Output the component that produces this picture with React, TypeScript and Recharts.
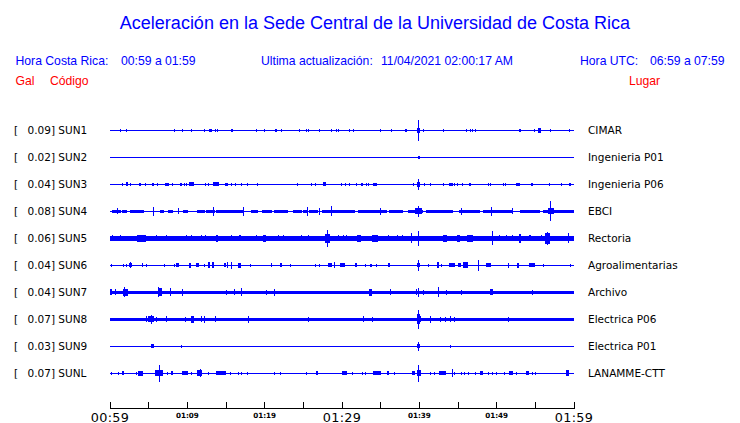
import { ComposedChart, Area, XAxis, YAxis } from "recharts";

// minutes after 00:59 (hora Costa Rica)
const MINUTES = [0, 5, 10, 15, 20, 25, 30, 35, 40, 45, 50, 55, 60];
const TIME_LABELS = ["00:59", "", "01:09", "", "01:19", "", "01:29", "", "01:39", "", "01:49", "", "01:59"];
const MAJOR = ["00:59", "01:29", "01:59"];

const CODES = ["SUN1", "SUN2", "SUN3", "SUN4", "SUN5", "SUN6", "SUN7", "SUN8", "SUN9", "SUNL"];
const PEAKS = ["0.09", "0.02", "0.04", "0.08", "0.06", "0.04", "0.04", "0.07", "0.03", "0.07"];
const PLACES = [
  "CIMAR",
  "Ingenieria P01",
  "Ingenieria P06",
  "EBCI",
  "Rectoria",
  "Agroalimentarias",
  "Archivo",
  "Electrica P06",
  "Electrica P01",
  "LANAMME-CTT",
];

// background half amplitude of each trace (in trace spacing units)
const BASE = [0.019, 0.019, 0.019, 0.019, 0.087, 0.019, 0.065, 0.068, 0.019, 0.019];

type Block = [number, number, number]; // start min, end min, half amplitude
type Spike = [number, number]; // min, half amplitude

const SUN1_BLOCKS: Block[] = [
  [12.8, 13.2, 0.06], [15.6, 15.9, 0.05], [21.3, 21.55, 0.06], [38.1, 38.37, 0.06],
  [39.7, 40.1, 0.09], [52.9, 53.1, 0.06], [55.4, 55.75, 0.09],
];
const SUN1_SPIKES: Spike[] = [
  [1.33, 0.055], [2.11, 0.055], [8.31, 0.055], [9.35, 0.055], [10.51, 0.055], [12.19, 0.055],
  [13.67, 0.055], [13.87, 0.055], [18.97, 0.055], [20.0, 0.055], [22.15, 0.055], [24.48, 0.055],
  [25.38, 0.055], [25.64, 0.055], [27.06, 0.055], [28.61, 0.055], [29.26, 0.055], [29.52, 0.055],
  [30.94, 0.055], [31.46, 0.055], [34.95, 0.055], [36.46, 0.055], [39.87, 0.39], [40.51, 0.055],
  [43.15, 0.055], [46.07, 0.055], [46.59, 0.055], [46.85, 0.055], [47.24, 0.055], [54.86, 0.055],
  [56.93, 0.055], [59.44, 0.055],
];

const SUN2_BLOCKS: Block[] = [[39.8, 40.05, 0.07]];
const SUN2_SPIKES: Spike[] = [];

const SUN3_BLOCKS: Block[] = [
  [2.03, 2.37, 0.075], [3.75, 4.05, 0.06], [5.39, 5.65, 0.06], [7.11, 7.63, 0.06], [9.0, 9.3, 0.06],
  [10.25, 10.9, 0.075], [13.36, 14.09, 0.075], [14.87, 15.22, 0.06], [27.6, 27.9, 0.075],
  [32.5, 32.68, 0.06], [34.05, 34.49, 0.06], [39.66, 40.08, 0.11], [43.8, 44.31, 0.06],
  [46.38, 46.64, 0.06], [52.46, 53.02, 0.06], [54.45, 54.75, 0.06], [59.3, 59.6, 0.06],
];
const SUN3_SPIKES: Spike[] = [
  [1.59, 0.055], [2.62, 0.055], [4.53, 0.055], [6.12, 0.055], [8.02, 0.055], [9.57, 0.055],
  [9.83, 0.055], [12.41, 0.055], [12.71, 0.055], [15.65, 0.055], [16.2, 0.055], [16.98, 0.055],
  [17.75, 0.055], [19.05, 0.055], [24.22, 0.055], [26.03, 0.055], [26.51, 0.055], [29.91, 0.055],
  [30.43, 0.055], [30.94, 0.055], [31.9, 0.055], [33.14, 0.055], [33.45, 0.055], [39.27, 0.055],
  [39.87, 0.22], [40.69, 0.055], [41.47, 0.055], [43.15, 0.055], [44.52, 0.055], [44.96, 0.055],
  [45.61, 0.055], [48.88, 0.055], [49.14, 0.055], [50.82, 0.055], [51.17, 0.055], [56.86, 0.055],
  [58.41, 0.055],
];

const SUN4_BLOCKS: Block[] = [
  [0.22, 1.42, 0.068], [1.59, 2.2, 0.068], [2.62, 4.44, 0.068], [6.47, 6.98, 0.068],
  [7.5, 8.11, 0.068], [9.48, 10.09, 0.068], [11.25, 12.28, 0.068], [12.45, 13.58, 0.068],
  [13.71, 17.24, 0.068], [18.19, 19.18, 0.068], [19.62, 20.91, 0.068], [21.25, 23.06, 0.068],
  [23.62, 24.79, 0.068], [25.0, 25.64, 0.068], [25.77, 26.93, 0.068], [27.37, 31.68, 0.068],
  [32.1, 35.78, 0.068], [36.11, 37.92, 0.068], [38.49, 40.51, 0.068], [39.5, 40.3, 0.11],
  [40.86, 44.39, 0.068], [45.17, 47.84, 0.068], [48.27, 52.15, 0.068], [53.01, 55.6, 0.068],
  [56.03, 60, 0.068], [56.6, 57.4, 0.11],
];
const SUN4_SPIKES: Spike[] = [
  [1.03, 0.11], [5.65, 0.15], [8.92, 0.11], [13.36, 0.15], [17.24, 0.15], [25.51, 0.15],
  [27.03, 0.13], [28.67, 0.185], [34.95, 0.13], [39.87, 0.2], [45.48, 0.13], [49.36, 0.15],
  [52.07, 0.11], [57.02, 0.37],
];

const SUN5_BLOCKS: Block[] = [
  [3.45, 4.62, 0.12], [13.75, 14.0, 0.13], [19.82, 20.13, 0.12], [27.8, 28.49, 0.15],
  [31.98, 32.42, 0.13], [33.92, 34.69, 0.13], [43.1, 43.54, 0.13], [44.83, 45.26, 0.13],
  [46.12, 46.98, 0.13], [52.9, 53.2, 0.15], [56.25, 56.9, 0.22],
];
const SUN5_SPIKES: Spike[] = [
  [0.3, 0.11], [1.42, 0.11], [5.99, 0.11], [7.28, 0.11], [9.87, 0.11], [10.56, 0.11],
  [11.86, 0.11], [12.41, 0.11], [15.65, 0.11], [16.81, 0.11], [18.92, 0.11], [21.76, 0.11],
  [22.41, 0.11], [24.79, 0.11], [25.73, 0.11], [28.15, 0.3], [29.52, 0.11], [30.17, 0.11],
  [30.52, 0.11], [35.99, 0.11], [37.2, 0.11], [37.8, 0.11], [39.01, 0.185], [39.87, 0.28],
  [49.43, 0.26], [50.43, 0.11], [51.3, 0.11], [52.02, 0.11], [54.31, 0.11], [55.82, 0.11],
  [56.57, 0.24], [59.26, 0.185],
];

const SUN6_BLOCKS: Block[] = [
  [2.46, 2.88, 0.075], [4.1, 4.31, 0.075], [8.5, 8.92, 0.075], [10.22, 10.44, 0.09],
  [11.15, 11.45, 0.075], [12.71, 12.97, 0.11], [13.2, 13.45, 0.11], [14.7, 14.96, 0.075],
  [16.6, 16.9, 0.09], [20.82, 20.99, 0.075], [22.0, 22.25, 0.075], [28.15, 28.67, 0.075],
  [29.78, 30.39, 0.075], [31.68, 31.98, 0.075], [35.95, 36.25, 0.075], [39.66, 40.09, 0.075],
  [42.25, 42.5, 0.11], [43.8, 44.61, 0.075], [45.04, 45.35, 0.075], [45.68, 46.33, 0.11],
  [48.62, 49.23, 0.075], [51.43, 51.63, 0.09], [52.67, 52.93, 0.09], [54.22, 54.96, 0.075],
];
const SUN6_SPIKES: Spike[] = [
  [0.13, 0.055], [1.77, 0.055], [2.11, 0.055], [2.65, 0.11], [4.75, 0.055], [7.11, 0.055],
  [8.28, 0.055], [12.28, 0.055], [15.22, 0.11], [15.74, 0.13], [18.14, 0.055], [23.28, 0.055],
  [26.51, 0.055], [27.15, 0.055], [29.0, 0.11], [33.1, 0.055], [33.75, 0.055], [34.49, 0.055],
  [39.87, 0.22], [41.16, 0.055], [42.89, 0.055], [47.62, 0.22], [56.08, 0.055], [59.61, 0.055],
];

const SUN7_BLOCKS: Block[] = [
  [0.0, 0.3, 0.11], [1.72, 2.29, 0.13], [6.25, 6.76, 0.15], [33.55, 33.9, 0.13],
  [49.2, 49.55, 0.11],
];
const SUN7_SPIKES: Spike[] = [
  [0.65, 0.11], [1.85, 0.185], [6.25, 0.185], [7.76, 0.15], [9.35, 0.13], [15.09, 0.08],
  [16.07, 0.11], [17.03, 0.15], [20.26, 0.09], [21.25, 0.13], [36.21, 0.11], [39.57, 0.11],
  [39.87, 0.17], [40.51, 0.09], [42.45, 0.185], [43.54, 0.09], [45.48, 0.08], [54.61, 0.08],
];

const SUN8_BLOCKS: Block[] = [
  [4.95, 5.73, 0.11], [10.47, 10.9, 0.13], [39.74, 40.09, 0.185],
];
const SUN8_SPIKES: Spike[] = [
  [4.75, 0.11], [5.39, 0.17], [6.04, 0.09], [7.33, 0.11], [9.79, 0.09], [11.86, 0.11],
  [12.28, 0.13], [13.58, 0.11], [17.97, 0.13], [25.64, 0.08], [32.75, 0.11], [33.92, 0.08],
  [39.87, 0.35], [40.18, 0.11], [41.47, 0.13], [42.76, 0.09], [43.41, 0.09], [44.05, 0.11],
  [44.52, 0.09], [51.5, 0.08],
];

const SUN9_BLOCKS: Block[] = [[5.3, 5.65, 0.075], [39.74, 40.09, 0.075]];
const SUN9_SPIKES: Spike[] = [[9.27, 0.04], [39.87, 0.17], [44.0, 0.04]];

const SUNL_BLOCKS: Block[] = [
  [1.51, 1.85, 0.075], [3.66, 4.31, 0.09], [5.82, 6.89, 0.11], [7.89, 8.11, 0.075],
  [9.27, 10.05, 0.075], [11.21, 11.86, 0.11], [13.71, 15.0, 0.075], [26.64, 26.94, 0.075],
  [29.96, 30.61, 0.075], [33.97, 35.0, 0.075], [35.82, 36.14, 0.075], [39.01, 39.44, 0.075],
  [39.66, 40.25, 0.11], [42.54, 43.45, 0.075], [47.84, 48.27, 0.075], [51.63, 52.15, 0.075],
  [53.75, 54.22, 0.075], [59.0, 59.3, 0.11],
];
const SUNL_SPIKES: Spike[] = [
  [0.13, 0.055], [1.07, 0.055], [3.45, 0.055], [6.37, 0.31], [7.46, 0.055], [10.56, 0.055],
  [11.64, 0.15], [12.71, 0.055], [15.52, 0.055], [16.68, 0.055], [16.94, 0.055], [17.81, 0.055],
  [21.25, 0.055], [22.07, 0.055], [25.43, 0.055], [31.38, 0.055], [32.68, 0.055], [33.1, 0.055],
  [36.85, 0.055], [39.87, 0.31], [41.47, 0.055], [41.9, 0.055], [44.31, 0.15], [44.61, 0.055],
  [45.48, 0.055], [45.9, 0.055], [46.33, 0.055], [47.2, 0.055], [49.0, 0.055], [49.48, 0.055],
  [50.0, 0.055], [50.98, 0.055], [52.59, 0.055], [54.66, 0.055], [55.08, 0.055],
];

const BLOCKS = [SUN1_BLOCKS, SUN2_BLOCKS, SUN3_BLOCKS, SUN4_BLOCKS, SUN5_BLOCKS,
  SUN6_BLOCKS, SUN7_BLOCKS, SUN8_BLOCKS, SUN9_BLOCKS, SUNL_BLOCKS];
const SPIKES = [SUN1_SPIKES, SUN2_SPIKES, SUN3_SPIKES, SUN4_SPIKES, SUN5_SPIKES,
  SUN6_SPIKES, SUN7_SPIKES, SUN8_SPIKES, SUN9_SPIKES, SUNL_SPIKES];

const SPIKE_WIDTH = 0.13; // about one pixel wide
const BLUE = "#0000ff";
const SANS = "'Liberation Sans', Arial, sans-serif";
const DEJAVU = "'DejaVu Sans', sans-serif";

// step envelope of a trace, centred on its row
function envelope(row: number, base: number, blocks: Block[], spikes: Spike[]) {
  const feats: Block[] = [
    [0, 60, base],
    ...blocks,
    ...spikes.map(([t, a]) => [t - SPIKE_WIDTH / 2, t + SPIKE_WIDTH / 2, a] as Block),
  ];
  const cuts = Array.from(
    new Set(feats.flatMap(([a, b]) => [Math.max(0, a), Math.min(60, b)]))
  ).sort((a, b) => a - b);
  const pts = cuts.map((t) => {
    let amp = 0;
    for (const [a, b, v] of feats) if (t >= a && t < b && v > amp) amp = v;
    return { t, v: [row - amp, row + amp] };
  });
  pts[pts.length - 1].v = pts[pts.length - 2].v;
  return pts;
}

const series = CODES.map((_, i) => envelope(10 - i, BASE[i], BLOCKS[i], SPIKES[i]));
const ROWS = CODES.map((_, i) => 10 - i);

const LeftTick = ({ x, y, payload }: any) => {
  const i = 10 - payload.value;
  return (
    <g fontFamily={DEJAVU} fontSize={10.5} fill="#000">
      <text x={x - 96} y={y} dominantBaseline="central">[</text>
      <text x={x - 82.5} y={y} dominantBaseline="central">{`${PEAKS[i]}] ${CODES[i]}`}</text>
    </g>
  );
};

const RightTick = ({ x, y, payload }: any) => {
  const i = 10 - payload.value;
  return (
    <text x={x + 14} y={y} dominantBaseline="central" fontFamily={DEJAVU} fontSize={10.5} fill="#000">
      {PLACES[i]}
    </text>
  );
};

const TimeTick = ({ x, y, payload }: any) => {
  const label = TIME_LABELS[MINUTES.indexOf(payload.value)];
  const major = MAJOR.includes(label);
  return (
    <g>
      <line x1={x} y1={y} x2={x} y2={y - 7} stroke="#000" strokeWidth={1} shapeRendering="crispEdges" />
      {label && (
        <text
          x={x}
          y={major ? y + 13 : y + 9}
          textAnchor="middle"
          fontFamily={DEJAVU}
          fontSize={major ? 12.8 : 7.2}
          fontWeight={major ? "normal" : "bold"}
          letterSpacing={major ? 0.3 : 0}
          fill="#000"
        >
          {label}
        </text>
      )}
    </g>
  );
};

export default function App() {
  return (
    <div style={{ position: "absolute", left: 0, top: 0, width: 740, height: 423, background: "#fff" }}>
      <style>{`.recharts-area-area, .recharts-cartesian-axis-line { shape-rendering: crispEdges; }`}</style>
      <ComposedChart width={740} height={423} margin={{ top: 103.5, right: 0, bottom: 0, left: 0 }}>
        <XAxis
          dataKey="t"
          type="number"
          domain={[0, 60]}
          ticks={MINUTES}
          interval={0}
          allowDataOverflow
          height={14.5}
          tickSize={0}
          tickMargin={0}
          tickLine={false}
          axisLine={{ stroke: "#000" }}
          tick={<TimeTick />}
        />
        <YAxis
          yAxisId="left"
          orientation="left"
          type="number"
          domain={[-0.3, 11]}
          allowDataOverflow
          ticks={ROWS}
          interval={0}
          width={110}
          tickSize={0}
          tickMargin={0}
          axisLine={false}
          tickLine={false}
          tick={<LeftTick />}
        />
        <YAxis
          yAxisId="right"
          orientation="right"
          type="number"
          domain={[-0.3, 11]}
          allowDataOverflow
          ticks={ROWS}
          interval={0}
          width={166}
          tickSize={0}
          tickMargin={0}
          axisLine={false}
          tickLine={false}
          tick={<RightTick />}
        />
        {series.map((data, i) => (
          <Area
            key={CODES[i]}
            data={data}
            dataKey="v"
            yAxisId={i % 2 === 0 ? "left" : "right"}
            type="stepAfter"
            stroke="none"
            fill={BLUE}
            fillOpacity={1}
            dot={false}
            activeDot={false}
            isAnimationActive={false}
          />
        ))}
      </ComposedChart>
      <svg
        width={740}
        height={100}
        style={{ position: "absolute", left: 0, top: 0, pointerEvents: "none" }}
      >
        <text x={375} y={29} textAnchor="middle" fontFamily={SANS} fontSize={18} fill={BLUE}>
          Aceleración en la Sede Central de la Universidad de Costa Rica
        </text>
        <g fontFamily={SANS} fontSize={12.2} fill={BLUE}>
          <text x={15.5} y={65}>Hora Costa Rica:</text>
          <text x={121} y={65}>00:59 a 01:59</text>
          <text x={261} y={65}>Ultima actualización:</text>
          <text x={381} y={65}>11/04/2021 02:00:17 AM</text>
          <text x={580} y={65}>Hora UTC:</text>
          <text x={650} y={65}>06:59 a 07:59</text>
        </g>
        <g fontFamily={SANS} fontSize={12.2} fill="#ff0000">
          <text x={15.5} y={85}>Gal</text>
          <text x={50} y={85}>Código</text>
          <text x={629} y={85}>Lugar</text>
        </g>
      </svg>
    </div>
  );
}
